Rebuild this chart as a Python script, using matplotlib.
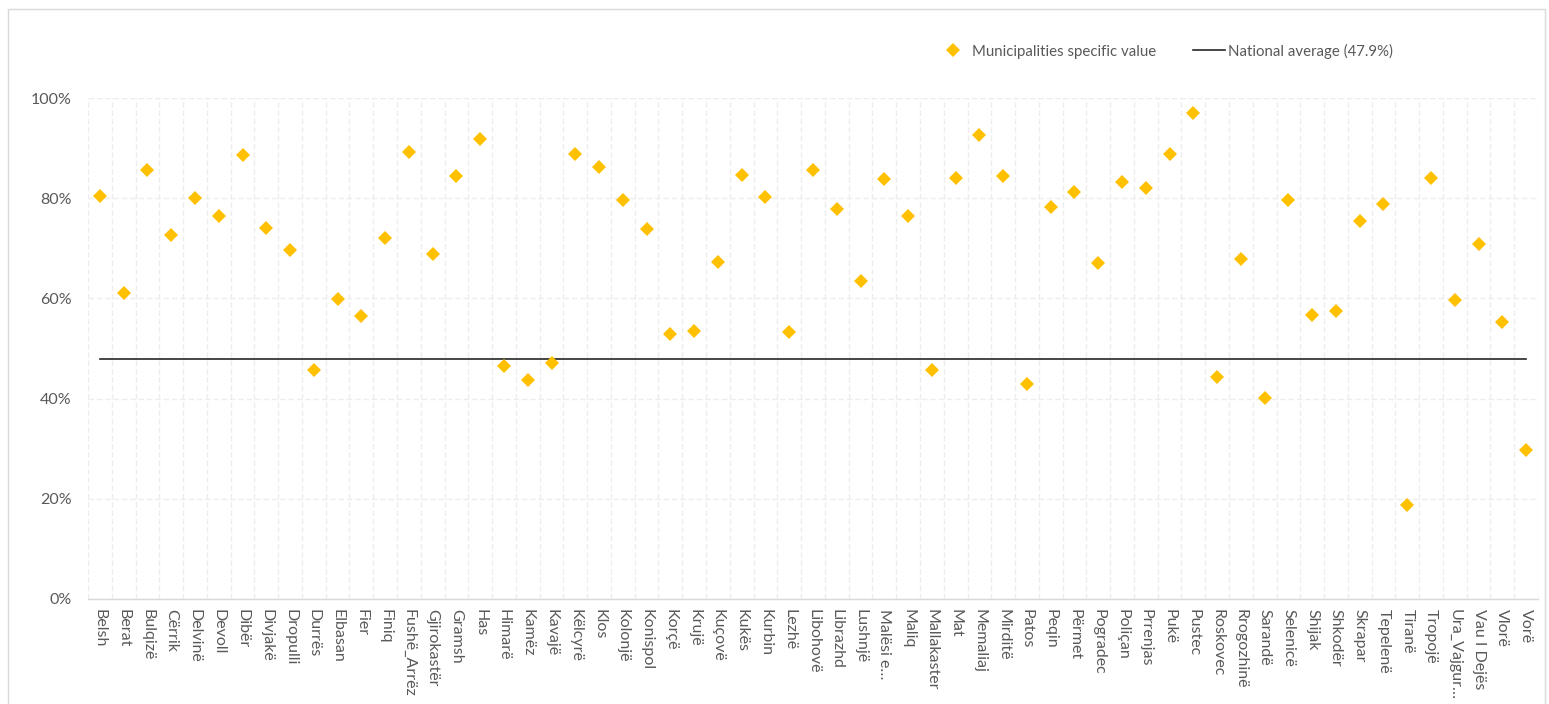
import matplotlib
matplotlib.use("Agg")
import matplotlib.pyplot as plt
from matplotlib.lines import Line2D
from matplotlib.patches import Rectangle
from matplotlib.ticker import PercentFormatter, FixedLocator

plt.rcParams['font.family'] = ['Lato', 'DejaVu Sans']

municipalities = [
    "Belsh", "Berat", "Bulqizë", "Cërrik", "Delvinë", "Devoll", "Dibër", "Divjakë",
    "Dropulli", "Durrës", "Elbasan", "Fier", "Finiq", "Fushë_Arrëz", "Gjirokastër",
    "Gramsh", "Has", "Himarë", "Kamëz", "Kavajë", "Këlcyrë", "Klos", "Kolonjë",
    "Konispol", "Korçë", "Krujë", "Kuçovë", "Kukës", "Kurbin", "Lezhë", "Libohovë",
    "Librazhd", "Lushnjë", "Malësi e…", "Maliq", "Mallakaster", "Mat", "Memaliaj",
    "Mirditë", "Patos", "Peqin", "Përmet", "Pogradec", "Poliçan", "Prrenjas", "Pukë",
    "Pustec", "Roskovec", "Rrogozhinë", "Sarandë", "Selenicë", "Shijak", "Shkodër",
    "Skrapar", "Tepelenë", "Tiranë", "Tropojë", "Ura_Vajgur…", "Vau I Dejës", "Vlorë",
    "Vorë",
]

specific_value = [
    80.5, 61.1, 85.6, 72.7, 80.0, 76.4, 88.6, 74.1,
    69.7, 45.7, 59.9, 56.4, 72.0, 89.2, 68.8,
    84.4, 91.8, 46.6, 43.7, 47.2, 88.8, 86.2, 79.6,
    73.8, 52.8, 53.4, 67.3, 84.7, 80.2, 53.2, 85.6,
    77.9, 63.5, 83.8, 76.4, 45.7, 84.1, 92.6,
    84.4, 42.9, 78.2, 81.2, 67.0, 83.2, 82.0, 88.8,
    97.1, 44.3, 67.9, 40.1, 79.6, 56.6, 57.5,
    75.5, 78.8, 18.8, 84.1, 59.7, 70.8, 55.2,
    29.7,
]

national_average = 47.9
y_ticks = [0, 20, 40, 60, 80, 100]

W, H = 1549, 704
fig = plt.figure(figsize=(W / 100, H / 100), dpi=100)
fig.patch.set_facecolor("white")

# outer chart border
fig.add_artist(Rectangle((8 / W, -0.05), (1545 - 8) / W, 1.05 - 9 / H,
                         transform=fig.transFigure, fill=False,
                         edgecolor="#d9d9d9", linewidth=1.0))

ax = fig.add_axes([88 / W, 1 - 599 / H, (1538 - 88) / W, (599 - 98) / H])

x = list(range(len(municipalities)))
vals = [v / 100 for v in specific_value]
avg = [national_average / 100] * len(municipalities)

ax.plot(x, avg, color="#262626", linewidth=1.2, zorder=3)
ax.plot(x, vals, linestyle="none", marker="D", markersize=7.2,
        color="#FFC000", markeredgewidth=0, zorder=4)

ax.set_xlim(-0.5, len(municipalities) - 0.5)
ax.set_ylim(0, 1)

ax.set_yticks([t / 100 for t in y_ticks])
ax.yaxis.set_major_formatter(PercentFormatter(1.0, decimals=0))
ax.set_xticks(x)
ax.set_xticklabels(municipalities, rotation=-90, va="top", ha="center")
ax.xaxis.set_minor_locator(FixedLocator([i + 0.5 for i in range(-1, len(municipalities))]))

ax.tick_params(axis="both", which="both", length=0, labelsize=11.5, labelcolor="#595959")
ax.tick_params(axis="x", pad=7)
ax.tick_params(axis="y", pad=12)

ax.grid(axis="y", which="major", color="#ededed", linestyle=(0, (4, 2)), linewidth=1.0)
ax.grid(axis="x", which="minor", color="#ededed", linestyle=(0, (4, 2)), linewidth=1.0)
ax.set_axisbelow(True)

for side in ("top", "right", "left"):
    ax.spines[side].set_visible(False)
ax.spines["bottom"].set_color("#d9d9d9")
ax.spines["bottom"].set_linewidth(1.0)

handles = [
    Line2D([], [], linestyle="none", marker="D", markersize=7.2,
           color="#FFC000", markeredgewidth=0),
    Line2D([], [], color="#262626", linewidth=1.2),
]
labels = ["Municipalities specific value", f"National average ({national_average}%)"]
fig.legend(handles, labels, loc="center left", bbox_to_anchor=(937 / W, 1 - 51 / H),
           ncol=2, frameon=False, fontsize=10.8, labelcolor="#595959",
           borderpad=0, borderaxespad=0, columnspacing=2.5,
           handlelength=2.1, handletextpad=0.2)

fig.savefig("out.png", dpi=100, facecolor="white")
